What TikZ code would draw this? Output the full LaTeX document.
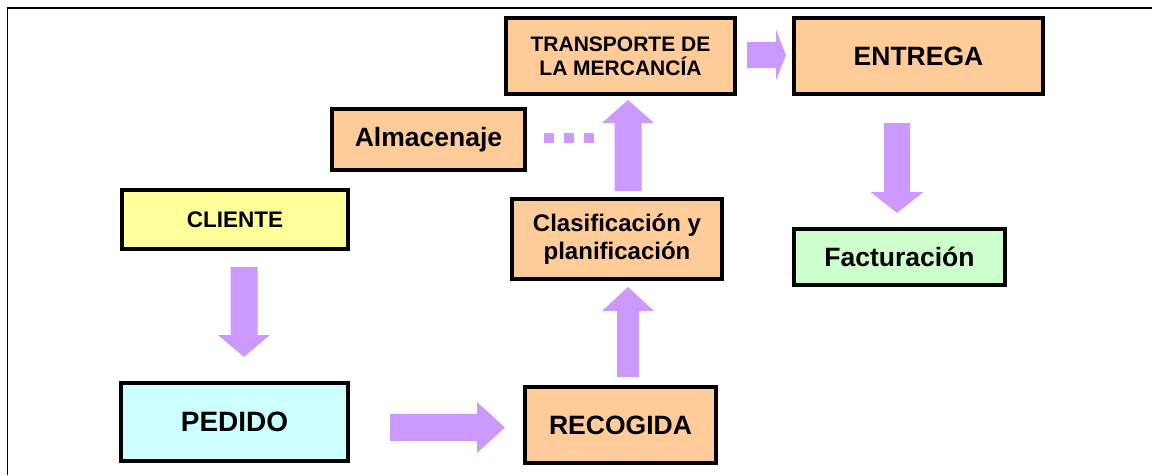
\documentclass[tikz,border=0pt]{standalone}
\usepackage{fontspec}
\setmainfont{Liberation Sans}
\usetikzlibrary{calc}
\definecolor{arrowc}{HTML}{CC99FF}
\definecolor{cyellow}{HTML}{FFFF99}
\definecolor{ccyan}{HTML}{CCFFFF}
\definecolor{corange}{HTML}{FFCC99}
\definecolor{cgreen}{HTML}{CCFFCC}
\newcommand\blockarrow[5]{%
  \fill[arrowc] let \p1=(#1), \p2=(#2), \n1={atan2(\y2-\y1,\x2-\x1)} in
  ($(\p1)+(\n1+90:#3)$) -- ($(\p2)+(\n1+180:#5)+(\n1+90:#3)$)
  -- ($(\p2)+(\n1+180:#5)+(\n1+90:#4)$) -- (\p2)
  -- ($(\p2)+(\n1+180:#5)+(\n1-90:#4)$) -- ($(\p2)+(\n1+180:#5)+(\n1-90:#3)$)
  -- ($(\p1)+(\n1-90:#3)$) -- cycle;}
\tikzset{
  box/.style={draw=black, line width=4pt, inner sep=0pt, align=center},
  dotline/.style={draw=arrowc, line width=10pt, dash pattern=on 10pt off 10pt},
}
\begin{document}
\begin{tikzpicture}[x=1pt,y=-1pt]
\useasboundingbox (0,0) rectangle (1152,475);
\draw[line width=1.3pt] (7.5,475) -- (7.5,8) -- (1152,8);

\node[box, fill=cyellow, minimum width=226pt, minimum height=59pt,
  font=\bfseries\fontsize{22.5}{26}\selectfont] (cliente) at (235,219.5) {CLIENTE};
\node[box, fill=ccyan, minimum width=227pt, minimum height=78pt,
  font=\bfseries\fontsize{28}{32}\selectfont] (pedido) at (234.5,422) {PEDIDO};
\node[box, fill=corange, minimum width=191pt, minimum height=76pt,
  font=\bfseries\fontsize{26.5}{30}\selectfont] (recogida) at (620.5,425) {RECOGIDA};
\node[box, fill=corange, minimum width=210pt, minimum height=80pt,
  font=\bfseries\fontsize{24}{28}\selectfont] (clasif) at (617,239) {Clasificación y\\planificación};
\node[box, fill=corange, minimum width=229pt, minimum height=76pt,
  font=\bfseries\fontsize{21}{24}\selectfont] (transporte) at (620.5,56) {TRANSPORTE DE\\LA MERCANCÍA};
\node[box, fill=corange, minimum width=193pt, minimum height=61pt,
  font=\bfseries\fontsize{26.5}{30}\selectfont] (almacenaje) at (428.5,139.5) {Almacenaje};
\node[box, fill=corange, minimum width=249pt, minimum height=76pt,
  font=\bfseries\fontsize{26.5}{30}\selectfont] (entrega) at (918.5,56) {ENTREGA};
\node[box, fill=cgreen, minimum width=211pt, minimum height=56pt,
  font=\bfseries\fontsize{26.5}{30}\selectfont] (facturacion) at (899.5,257) {Facturación};

\coordinate (a1s) at ($(cliente.south)+(9,16)$);
\coordinate (a1e) at ($(pedido.north)+(9.5,-24)$);
\coordinate (a2s) at ($(pedido.east)+(40,5.5)$);
\coordinate (a2e) at ($(recogida.west)+(-18,2.5)$);
\coordinate (a3s) at ($(recogida.north)+(7.5,-8)$);
\coordinate (a3e) at ($(clasif.south)+(11,6)$);
\coordinate (a4s) at ($(clasif.north)+(11,-6)$);
\coordinate (a4e) at ($(transporte.south)+(7.5,4)$);
\coordinate (a5s) at ($(transporte.east)+(10,-1)$);
\coordinate (a5e) at ($(entrega.west)+(-6,-1)$);
\coordinate (a6s) at ($(entrega.south)+(-21.5,27)$);
\coordinate (a6e) at ($(facturacion.north)+(-2.5,-14)$);
\coordinate (d1) at ($(almacenaje.east)+(17,-1.5)$);
\coordinate (d2) at ($(almacenaje.east)+(67,-1.5)$);

\blockarrow{a1s}{a1e}{13.5pt}{26pt}{22pt}
\blockarrow{a2s}{a2e}{13.5pt}{25.5pt}{28pt}
\blockarrow{a3s}{a3e}{11pt}{26pt}{24pt}
\blockarrow{a4s}{a4e}{13.5pt}{26pt}{23pt}
\blockarrow{a5s}{a5e}{13pt}{25.5pt}{10pt}
\blockarrow{a6s}{a6e}{13pt}{26.5pt}{21pt}
\draw[dotline] (d1) -- (d2);
\end{tikzpicture}
\end{document}
